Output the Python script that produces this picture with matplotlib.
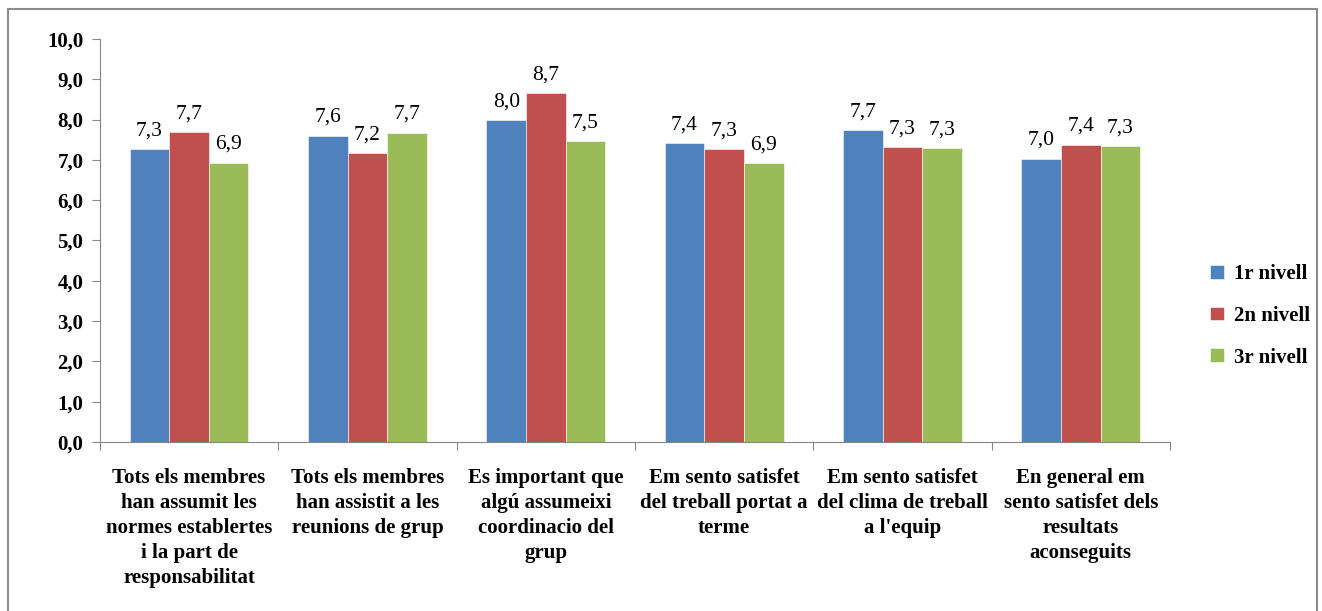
import numpy as np
import matplotlib.pyplot as plt
from matplotlib.patches import Rectangle

categories = [
    "Tots els membres\nhan assumit les\nnormes establertes\ni la part de\nresponsabilitat",
    "Tots els membres\nhan assistit a les\nreunions de grup",
    "Es important que\nalgú assumeixi\ncoordinacio del\ngrup",
    "Em sento satisfet\ndel treball portat a\nterme",
    "Em sento satisfet\ndel clima de treball\na l'equip",
    "En general em\nsento satisfet dels\nresultats\naconseguits",
]
series = ["1r nivell", "2n nivell", "3r nivell"]
nivell1 = [7.27, 7.60, 7.98, 7.42, 7.74, 7.03]
nivell2 = [7.69, 7.17, 8.66, 7.27, 7.32, 7.38]
nivell3 = [6.93, 7.67, 7.46, 6.92, 7.29, 7.34]
colors = ["#4F81BD", "#C0504D", "#9BBB59"]

plt.rcParams["font.family"] = ["Liberation Serif", "DejaVu Serif"]

fig = plt.figure(figsize=(13.22, 6.11), dpi=100)
ax = fig.add_axes([0.0756, 0.2766, 0.8094, 0.6596])

# outer chart border
fig.patches.append(Rectangle((8 / 1322, -0.05), 1309 / 1322, 1.05 - 9 / 611,
                             transform=fig.transFigure, fill=False,
                             edgecolor="#8c8c8c", linewidth=1.5))

x = np.arange(len(categories))
w = 0.222
for i, (vals, name) in enumerate(zip([nivell1, nivell2, nivell3], series)):
    bars = ax.bar(x + (i - 1) * w, vals, w, color=colors[i], label=name,
                  edgecolor="white", linewidth=0.4)
    for b, v in zip(bars, vals):
        ax.text(b.get_x() + b.get_width() / 2, v + 0.22, f"{v:.1f}".replace(".", ","),
                ha="center", va="bottom", fontsize=15.5)

ax.set_xlim(-0.5, len(categories) - 0.5)
ax.set_ylim(0, 10)
ax.set_yticks(np.arange(0, 11, 1))
ax.set_yticklabels([f"{t:.1f}".replace(".", ",") for t in range(11)],
                   fontsize=15, fontweight="bold")
ax.set_xticks(np.arange(-0.5, len(categories)))
ax.set_xticklabels([])
ax.set_xticks(x, minor=True)
ax.set_xticklabels(categories, minor=True, fontsize=15, fontweight="bold",
                   linespacing=1.32, va="top")
ax.tick_params(axis="x", which="major", length=6, color="#868686")
ax.tick_params(axis="x", which="minor", length=0, pad=19)
ax.tick_params(axis="y", length=6, color="#868686", pad=6)

for s in ["top", "right"]:
    ax.spines[s].set_visible(False)
for s in ["left", "bottom"]:
    ax.spines[s].set_color("#868686")

leg = ax.legend(loc="center left", bbox_to_anchor=(1.02, 0.313), frameon=False,
                prop={"size": 15, "weight": "bold"}, handlelength=0.65,
                handleheight=0.65, labelspacing=1.05, handletextpad=0.5)

fig.savefig("out.png", dpi=100)
